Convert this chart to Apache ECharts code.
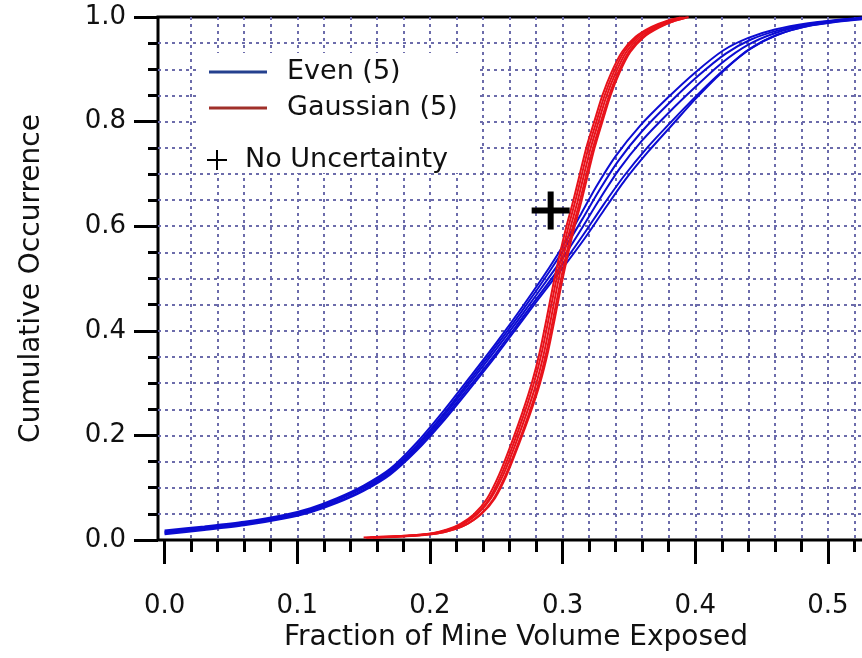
<!DOCTYPE html>
<html>
<head>
<meta charset="utf-8">
<title>Cumulative Occurrence</title>
<script src="https://cdn.jsdelivr.net/npm/echarts@6/dist/echarts.min.js"></script>
<style>
  html, body { margin: 0; padding: 0; background: #fff; }
  #chart { width: 862px; height: 658px; }
</style>
</head>
<body>
<div id="chart"></div>
<script>
// curves: [ fraction of mine volume exposed, cumulative occurrence ]
const even1 = [ [ 0.000, 0.018 ], [ 0.030, 0.026 ], [ 0.060, 0.035 ], [ 0.090, 0.048 ], [ 0.110, 0.061 ], [ 0.130, 0.080 ], [ 0.150, 0.104 ], [ 0.170, 0.136 ], [ 0.190, 0.186 ], [ 0.210, 0.246 ], [ 0.230, 0.311 ], [ 0.250, 0.377 ], [ 0.270, 0.447 ], [ 0.290, 0.521 ], [ 0.303, 0.574 ], [ 0.314, 0.624 ], [ 0.325, 0.674 ], [ 0.340, 0.734 ], [ 0.358, 0.791 ], [ 0.379, 0.845 ], [ 0.400, 0.894 ], [ 0.421, 0.936 ], [ 0.440, 0.960 ], [ 0.460, 0.976 ], [ 0.485, 0.988 ], [ 0.510, 0.995 ], [ 0.530, 1.000 ] ];
const even2 = [ [ 0.000, 0.016 ], [ 0.030, 0.024 ], [ 0.060, 0.033 ], [ 0.090, 0.046 ], [ 0.110, 0.059 ], [ 0.130, 0.078 ], [ 0.150, 0.101 ], [ 0.170, 0.133 ], [ 0.190, 0.181 ], [ 0.210, 0.240 ], [ 0.230, 0.305 ], [ 0.250, 0.371 ], [ 0.270, 0.440 ], [ 0.290, 0.513 ], [ 0.303, 0.564 ], [ 0.315, 0.614 ], [ 0.327, 0.666 ], [ 0.342, 0.725 ], [ 0.360, 0.782 ], [ 0.381, 0.837 ], [ 0.402, 0.887 ], [ 0.423, 0.930 ], [ 0.442, 0.957 ], [ 0.462, 0.974 ], [ 0.487, 0.987 ], [ 0.512, 0.995 ], [ 0.535, 1.000 ] ];
const even3 = [ [ 0.000, 0.015 ], [ 0.030, 0.023 ], [ 0.060, 0.032 ], [ 0.090, 0.045 ], [ 0.110, 0.057 ], [ 0.130, 0.076 ], [ 0.150, 0.099 ], [ 0.170, 0.130 ], [ 0.190, 0.178 ], [ 0.210, 0.236 ], [ 0.230, 0.300 ], [ 0.250, 0.365 ], [ 0.270, 0.433 ], [ 0.290, 0.503 ], [ 0.303, 0.550 ], [ 0.315, 0.598 ], [ 0.328, 0.652 ], [ 0.343, 0.710 ], [ 0.360, 0.764 ], [ 0.380, 0.817 ], [ 0.400, 0.866 ], [ 0.420, 0.912 ], [ 0.440, 0.947 ], [ 0.460, 0.969 ], [ 0.485, 0.985 ], [ 0.510, 0.994 ], [ 0.540, 1.000 ] ];
const even4 = [ [ 0.000, 0.013 ], [ 0.030, 0.021 ], [ 0.060, 0.030 ], [ 0.090, 0.043 ], [ 0.110, 0.055 ], [ 0.130, 0.073 ], [ 0.150, 0.096 ], [ 0.170, 0.127 ], [ 0.190, 0.174 ], [ 0.210, 0.231 ], [ 0.230, 0.294 ], [ 0.250, 0.358 ], [ 0.270, 0.426 ], [ 0.290, 0.494 ], [ 0.303, 0.538 ], [ 0.316, 0.585 ], [ 0.330, 0.638 ], [ 0.346, 0.695 ], [ 0.363, 0.748 ], [ 0.382, 0.800 ], [ 0.402, 0.852 ], [ 0.422, 0.900 ], [ 0.442, 0.940 ], [ 0.462, 0.966 ], [ 0.487, 0.984 ], [ 0.515, 0.994 ], [ 0.545, 1.000 ] ];
const even5 = [ [ 0.000, 0.011 ], [ 0.030, 0.019 ], [ 0.060, 0.028 ], [ 0.090, 0.041 ], [ 0.110, 0.053 ], [ 0.130, 0.071 ], [ 0.150, 0.094 ], [ 0.170, 0.125 ], [ 0.190, 0.171 ], [ 0.210, 0.227 ], [ 0.230, 0.289 ], [ 0.250, 0.353 ], [ 0.270, 0.421 ], [ 0.290, 0.488 ], [ 0.303, 0.530 ], [ 0.317, 0.578 ], [ 0.331, 0.630 ], [ 0.347, 0.688 ], [ 0.364, 0.741 ], [ 0.382, 0.792 ], [ 0.400, 0.843 ], [ 0.420, 0.894 ], [ 0.440, 0.937 ], [ 0.462, 0.966 ], [ 0.488, 0.984 ], [ 0.518, 0.994 ], [ 0.550, 1.000 ] ];

const gauss1 = [ [ 0.150, 0.005 ], [ 0.175, 0.007 ], [ 0.200, 0.012 ], [ 0.213, 0.020 ], [ 0.223, 0.031 ], [ 0.233, 0.049 ], [ 0.243, 0.079 ], [ 0.252, 0.124 ], [ 0.261, 0.182 ], [ 0.270, 0.246 ], [ 0.277, 0.302 ], [ 0.283, 0.362 ], [ 0.288, 0.424 ], [ 0.293, 0.489 ], [ 0.298, 0.548 ], [ 0.303, 0.601 ], [ 0.308, 0.648 ], [ 0.313, 0.700 ], [ 0.318, 0.751 ], [ 0.324, 0.801 ], [ 0.330, 0.850 ], [ 0.337, 0.895 ], [ 0.345, 0.934 ], [ 0.355, 0.962 ], [ 0.367, 0.981 ], [ 0.379, 0.993 ], [ 0.389, 0.999 ] ];
const gauss2 = [ [ 0.152, 0.004 ], [ 0.177, 0.007 ], [ 0.2015, 0.012 ], [ 0.2145, 0.020 ], [ 0.2245, 0.031 ], [ 0.2345, 0.049 ], [ 0.2445, 0.078 ], [ 0.2535, 0.123 ], [ 0.2625, 0.181 ], [ 0.2715, 0.245 ], [ 0.2785, 0.301 ], [ 0.2845, 0.361 ], [ 0.2895, 0.423 ], [ 0.2945, 0.488 ], [ 0.2995, 0.547 ], [ 0.3045, 0.600 ], [ 0.3095, 0.647 ], [ 0.3145, 0.699 ], [ 0.3195, 0.750 ], [ 0.3255, 0.800 ], [ 0.3315, 0.849 ], [ 0.3385, 0.894 ], [ 0.3465, 0.934 ], [ 0.3565, 0.962 ], [ 0.3685, 0.981 ], [ 0.3805, 0.993 ], [ 0.3905, 0.999 ] ];
const gauss3 = [ [ 0.155, 0.005 ], [ 0.180, 0.008 ], [ 0.203, 0.013 ], [ 0.216, 0.021 ], [ 0.226, 0.032 ], [ 0.236, 0.050 ], [ 0.246, 0.080 ], [ 0.255, 0.123 ], [ 0.264, 0.180 ], [ 0.273, 0.243 ], [ 0.280, 0.298 ], [ 0.286, 0.358 ], [ 0.291, 0.420 ], [ 0.296, 0.486 ], [ 0.301, 0.546 ], [ 0.306, 0.598 ], [ 0.311, 0.645 ], [ 0.316, 0.697 ], [ 0.321, 0.748 ], [ 0.327, 0.799 ], [ 0.333, 0.848 ], [ 0.340, 0.893 ], [ 0.348, 0.933 ], [ 0.358, 0.961 ], [ 0.370, 0.980 ], [ 0.382, 0.993 ], [ 0.392, 0.999 ] ];
const gauss4 = [ [ 0.157, 0.004 ], [ 0.182, 0.007 ], [ 0.2045, 0.012 ], [ 0.2175, 0.020 ], [ 0.2275, 0.030 ], [ 0.2375, 0.048 ], [ 0.2475, 0.077 ], [ 0.2565, 0.121 ], [ 0.2655, 0.178 ], [ 0.2745, 0.241 ], [ 0.2815, 0.296 ], [ 0.2875, 0.356 ], [ 0.2925, 0.418 ], [ 0.2975, 0.483 ], [ 0.3025, 0.543 ], [ 0.3075, 0.596 ], [ 0.3125, 0.643 ], [ 0.3175, 0.695 ], [ 0.3225, 0.746 ], [ 0.3285, 0.797 ], [ 0.3345, 0.846 ], [ 0.3415, 0.892 ], [ 0.3495, 0.932 ], [ 0.3595, 0.960 ], [ 0.3715, 0.980 ], [ 0.3835, 0.992 ], [ 0.3935, 0.999 ] ];
const gauss5 = [ [ 0.160, 0.005 ], [ 0.185, 0.008 ], [ 0.206, 0.013 ], [ 0.219, 0.021 ], [ 0.229, 0.032 ], [ 0.239, 0.050 ], [ 0.249, 0.080 ], [ 0.258, 0.125 ], [ 0.267, 0.183 ], [ 0.276, 0.245 ], [ 0.283, 0.300 ], [ 0.289, 0.360 ], [ 0.294, 0.422 ], [ 0.299, 0.487 ], [ 0.304, 0.546 ], [ 0.309, 0.599 ], [ 0.314, 0.646 ], [ 0.319, 0.698 ], [ 0.324, 0.749 ], [ 0.330, 0.800 ], [ 0.336, 0.849 ], [ 0.343, 0.894 ], [ 0.351, 0.933 ], [ 0.361, 0.961 ], [ 0.373, 0.980 ], [ 0.385, 0.993 ], [ 0.395, 1.000 ] ];

const noUncertainty = [ [ 0.291, 0.630 ] ];

const xTicks = [ 0.0, 0.1, 0.2, 0.3, 0.4, 0.5 ];
const yTicks = [ 0.0, 0.2, 0.4, 0.6, 0.8, 1.0 ];

( function ()
{
  let myChart = echarts.init( document.getElementById( 'chart' ) );

  const font = 'DejaVu Sans';
  const ink = '#111';
  const blue = '#0c0cd2';
  const red = '#e8121a';
  const dots = { color: '#6c6cab', width: 2, type: [ 3, 4 ] };
  const xStep = xTicks[ 1 ] - xTicks[ 0 ];
  const yStep = yTicks[ 1 ] - yTicks[ 0 ];

  function curve ( name, data, color )
  {
    return {
      name: name,
      type: 'line',
      xAxisIndex: 1,
      yAxisIndex: 1,
      data: data,
      symbol: 'none',
      smooth: 0.25,
      lineStyle: { color: color, width: 2 },
      itemStyle: { color: color },
      emphasis: { disabled: true }
    };
  }

  let series = [];
  [ even1, even2, even3, even4, even5 ].forEach( function ( d )
  {
    series.push( curve( 'Even (5)', d, blue ) );
  } );
  [ gauss1, gauss2, gauss3, gauss4, gauss5 ].forEach( function ( d )
  {
    series.push( curve( 'Gaussian (5)', d, red ) );
  } );
  series.push( {
    name: 'No Uncertainty',
    type: 'scatter',
    xAxisIndex: 1,
    yAxisIndex: 1,
    data: noUncertainty,
    symbol: 'path://M16,0h6v38h-6zM0,16h38v6h-38z',
    symbolSize: 38,
    itemStyle: { color: '#000', opacity: 1 },
    emphasis: { disabled: true },
    z: 5
  } );

  let option = {
    animation: false,
    backgroundColor: '#fff',
    textStyle: { fontFamily: font },
    // grid 0 carries the frame, the y ticks and the horizontal dots
    // grid 1 starts at x = 0 and carries the data and the x ticks
    grid: [
      { left: 158, top: 17, width: 716, height: 523, outerBoundsMode: 'none', show: true, borderColor: '#000', borderWidth: 3, backgroundColor: 'transparent' },
      { left: 164.6, top: 17, width: 796, height: 523, outerBoundsMode: 'none' }
    ],
    graphic: [
      { type: 'rect', left: 197, top: 53, shape: { width: 280, height: 120 }, style: { fill: '#fff' }, z: 3 }
    ],
    legend: [
      {
        left: 209,
        top: 57,
        orient: 'vertical',
        padding: 0,
        itemGap: 6,
        itemWidth: 58,
        itemHeight: 3,
        selectedMode: false,
        z: 6,
        textStyle: { fontFamily: font, fontSize: 27, color: ink, lineHeight: 30, padding: [ 0, 0, 0, 15 ] },
        data: [
          { name: 'Even (5)', icon: 'rect', itemStyle: { color: '#24408e' } },
          { name: 'Gaussian (5)', icon: 'rect', itemStyle: { color: '#a0302a' } }
        ]
      },
      {
        left: 207,
        top: 145,
        padding: 0,
        itemWidth: 20,
        itemHeight: 20,
        selectedMode: false,
        z: 6,
        textStyle: { fontFamily: font, fontSize: 27, color: ink, lineHeight: 30, padding: [ 0, 0, 0, 13 ] },
        data: [
          { name: 'No Uncertainty', icon: 'path://M9,0h2v20h-2zM0,9h20v2h-20z' }
        ]
      }
    ],
    xAxis: [
      {
        gridIndex: 0,
        type: 'value',
        min: 0,
        max: 1,
        name: 'Fraction of Mine Volume Exposed',
        nameLocation: 'middle',
        nameGap: 84,
        nameTextStyle: { fontFamily: font, fontSize: 28, color: ink },
        axisLine: { show: false },
        axisTick: { show: false },
        axisLabel: { show: false },
        splitLine: { show: false }
      },
      {
        gridIndex: 1,
        type: 'value',
        min: xTicks[ 0 ],
        max: 0.6,
        interval: xStep,
        axisLine: { show: false },
        axisTick: { show: true, length: 24, lineStyle: { color: '#000', width: 3 } },
        minorTick: { show: true, splitNumber: 5, length: 12, lineStyle: { color: '#000', width: 3 } },
        axisLabel: {
          margin: 53,
          fontFamily: font,
          fontSize: 26,
          color: ink,
          showMaxLabel: false,
          formatter: function ( v ) { return v.toFixed( 1 ); }
        },
        splitLine: { show: true, showMinLine: false, lineStyle: dots },
        minorSplitLine: { show: true, lineStyle: dots }
      }
    ],
    yAxis: [
      {
        gridIndex: 0,
        type: 'value',
        min: yTicks[ 0 ],
        max: yTicks[ yTicks.length - 1 ],
        interval: yStep,
        name: 'Cumulative Occurrence',
        nameLocation: 'middle',
        nameGap: 112,
        nameTextStyle: { fontFamily: font, fontSize: 28, color: ink },
        axisLine: { show: false },
        axisTick: { show: true, length: 24, lineStyle: { color: '#000', width: 3 } },
        minorTick: { show: true, splitNumber: 4, length: 10, lineStyle: { color: '#000', width: 3 } },
        axisLabel: {
          margin: 32,
          fontFamily: font,
          fontSize: 26,
          color: ink,
          formatter: function ( v ) { return v.toFixed( 1 ); }
        },
        splitLine: { show: true, showMinLine: false, showMaxLine: false, lineStyle: dots },
        minorSplitLine: { show: true, lineStyle: dots }
      },
      {
        gridIndex: 1,
        type: 'value',
        min: yTicks[ 0 ],
        max: yTicks[ yTicks.length - 1 ],
        show: false
      }
    ],
    series: series
  };
  myChart.setOption( option );
  window.addEventListener( "resize", function ()
  {
    myChart.resize();
  } );
} )();
</script>
</body>
</html>
